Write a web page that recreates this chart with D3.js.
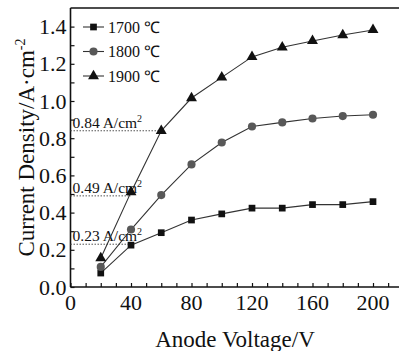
<!DOCTYPE html>
<html>
<head>
<meta charset="utf-8">
<script src="https://cdn.jsdelivr.net/npm/d3@7"></script>
<style>
  html, body { margin: 0; padding: 0; background: #fff; overflow: hidden; }
  svg { display: block; }
  svg text { font-family: "Liberation Serif", "Times New Roman", serif !important; fill: #111; }
</style>
</head>
<body>
<svg id="chart" width="399" height="351" font-family="Liberation Serif"></svg>
<script>
// Data
const voltages = [20, 40, 60, 80, 100, 120, 140, 160, 180, 200];
const series1700 = [0.075, 0.225, 0.292, 0.36, 0.393, 0.424, 0.424, 0.443, 0.443, 0.459];
const series1800 = [0.108, 0.309, 0.494, 0.659, 0.777, 0.863, 0.885, 0.906, 0.919, 0.926];
const series1900 = [0.155, 0.51, 0.84, 1.016, 1.127, 1.237, 1.289, 1.323, 1.355, 1.382];
const seriesNames = ["1700 \u2103", "1800 \u2103", "1900 \u2103"];
const xTicks = [0, 40, 80, 120, 160, 200];
const yTicks = [0.0, 0.2, 0.4, 0.6, 0.8, 1.0, 1.2, 1.4];
const marks = [
  { value: 0.84, atV: 60, label: "0.84 A/cm" },
  { value: 0.49, atV: 40, label: "0.49 A/cm" },
  { value: 0.23, atV: 40, label: "0.23 A/cm" }
];

const svg = d3.select("#chart");
const margin = { top: 8, left: 70.5, bottom: 64 };
const height = +svg.attr("height") - margin.top - margin.bottom;

// the reference is cut off at the right, so the frame has no right side here
const x = d3.scaleLinear().domain([0, 200]).range([margin.left, margin.left + 302.5]);
const y = d3.scaleLinear().domain([0, 1.5]).range([margin.top + height, margin.top]);
const W = +svg.attr("width");

const frame = svg.append("g").attr("stroke", "#111").attr("stroke-width", 1.6);
frame.append("line").attr("x1", x(0)).attr("x2", W).attr("y1", y(1.5)).attr("y2", y(1.5));
frame.append("line").attr("x1", x(0)).attr("x2", W).attr("y1", y(0)).attr("y2", y(0));
frame.append("line").attr("x1", x(0)).attr("x2", x(0)).attr("y1", y(0)).attr("y2", y(1.5));

// X axis ticks
const xAxis = svg.append("g")
  .attr("transform", `translate(0,${y(0)})`)
  .call(d3.axisBottom(x).tickValues(d3.range(0, 211, 10)).tickSize(-4).tickFormat(""));
xAxis.select(".domain").remove();
xAxis.selectAll(".tick line").attr("stroke", "#111").attr("stroke-width", 1.2);

svg.append("g").selectAll("text").data(xTicks).join("text")
  .attr("x", d => x(d)).attr("y", 310)
  .attr("text-anchor", "middle").style("font-size", "22px")
  .text(d => d);

// Y axis ticks
const yAxis = svg.append("g")
  .attr("transform", `translate(${x(0)},0)`)
  .call(d3.axisLeft(y).tickValues(d3.range(0, 15).map(i => i / 10)).tickSize(-4).tickFormat(""));
yAxis.select(".domain").remove();
yAxis.selectAll(".tick line").attr("stroke", "#111").attr("stroke-width", 1.2);

svg.append("g").selectAll("text").data(yTicks).join("text")
  .attr("x", x(0) - 4).attr("y", d => y(d) + 7.5)
  .attr("text-anchor", "end").style("font-size", "22px")
  .text(d => d.toFixed(1));

// Axis titles
svg.append("text")
  .attr("x", 235).attr("y", 347)
  .attr("text-anchor", "middle").style("font-size", "23px")
  .text("Anode Voltage/V");

const yt = svg.append("text")
  .attr("transform", `translate(34,${(y(0) + y(1.5)) / 2}) rotate(-90)`)
  .attr("text-anchor", "middle").style("font-size", "23px");
yt.append("tspan").text("Current Density/A\u00b7cm");
yt.append("tspan").attr("dy", -9).style("font-size", "14px").text("-2");

// Guide lines and labels
svg.append("g").selectAll("line").data(marks).join("line")
  .attr("x1", x(0)).attr("x2", d => x(d.atV))
  .attr("y1", d => y(d.value)).attr("y2", d => y(d.value))
  .attr("stroke", "#555").attr("stroke-width", 1).attr("stroke-dasharray", "1.5,1.5");

const ml = svg.append("g").selectAll("text").data(marks).join("text")
  .attr("x", x(0) + 2).attr("y", d => y(d.value) - 3)
  .style("font-size", "15.5px");
ml.append("tspan").text(d => d.label);
ml.append("tspan").attr("dy", -6).style("font-size", "10px").text("2");

// Series
const allSeries = [
  { name: seriesNames[0], values: series1700, shape: d3.symbolSquare, size: 45, color: "#111" },
  { name: seriesNames[1], values: series1800, shape: d3.symbolCircle, size: 52, color: "#585858" },
  { name: seriesNames[2], values: series1900, shape: d3.symbolTriangle, size: 52, color: "#111" }
];

const line = d3.line().x((d, i) => x(voltages[i])).y(d => y(d));

allSeries.forEach(s => {
  svg.append("path")
    .attr("d", line(s.values))
    .attr("fill", "none").attr("stroke", "#333").attr("stroke-width", 1.1);
  svg.append("g").selectAll("path").data(s.values).join("path")
    .attr("transform", (d, i) => `translate(${x(voltages[i])},${y(d)})`)
    .attr("d", d3.symbol(s.shape, s.size))
    .attr("fill", s.color);
});

// Legend
const legend = svg.append("g").selectAll("g").data(allSeries).join("g")
  .attr("transform", (d, i) => `translate(83,${27 + i * 24.5})`);
legend.append("line").attr("x1", 0).attr("x2", 21)
  .attr("stroke", "#333").attr("stroke-width", 1.1);
legend.append("path").attr("transform", "translate(10.5,0)")
  .attr("d", d => d3.symbol(d.shape, d.size)())
  .attr("fill", d => d.color);
legend.append("text").attr("x", 25).attr("y", 5.5)
  .style("font-size", "16px").text(d => d.name);
</script>
</body>
</html>
